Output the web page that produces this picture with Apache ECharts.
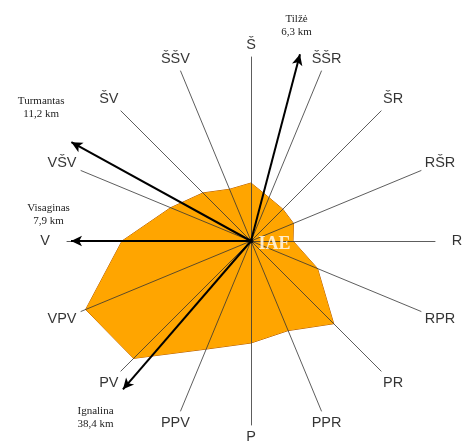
<!DOCTYPE html>
<html><head><meta charset="utf-8">
<script src="https://cdn.jsdelivr.net/npm/echarts@6/dist/echarts.min.js"></script>
<style>html,body{margin:0;padding:0;background:#fff}#c{width:462px;height:441px}</style>
</head><body><div id="c"></div>
<script>
// 16 wind directions, clockwise from north
const directions = ['Š','ŠŠR','ŠR','RŠR','R','RPR','PR','PPR','P','PPV','PV','VPV','V','VŠV','ŠV','ŠŠV'];
const zoneValues = [58,47,45,46,42,72,117,97,102,117,166,179,129,87,68,56];
const axisMax = 184;
// towns with arrows
const towns = ['Tilžė','Turmantas','Visaginas','Ignalina'];
const townDistances = ['6,3 km','11,2 km','7,9 km','38,4 km'];
const townBearings = [14.7, 298.8, 270, 220.8];
const arrowLengths = [193, 205, 180, 196];
const centerLabel = 'IAE';

// label offsets (style)
const townLabelOffsets = [[-2,-34],[-35,-37],[-28,-26],[-31,32]];

const chart = echarts.init(document.getElementById('c'));
// radar goes counterclockwise: reorder
const ccwIdx = [0].concat(directions.map((d,i)=>i).slice(1).reverse());
const indicators = ccwIdx.map(i => ({name: directions[i], max: axisMax}));
const radarVals = ccwIdx.map(i => zoneValues[i]);
const step = 360 / directions.length;

const CENTER = [251, 241];
const arrowSeries = towns.map((t, i) => ({
  type: 'line',
  coordinateSystem: 'polar',
  z: 20,
  silent: true,
  animation: false,
  lineStyle: {color: '#000', width: 2},
  data: [
    {value: [0, townBearings[i]], symbol: 'none'},
    {value: [arrowLengths[i], townBearings[i]], symbol: 'arrow', symbolSize: [8, 11],
     symbolRotate: -townBearings[i],
     itemStyle: {color: '#000'},
     label: {show: true, position: 'inside', offset: townLabelOffsets[i],
       formatter: t + '\n' + townDistances[i], color: '#222',
       fontFamily: 'Liberation Serif', fontSize: 11, lineHeight: 13, align: 'center'}}
  ]
}));

// direction name labels, centred just beyond each spoke
const nameData = directions.map((d, i) => {
  const b = i * step;
  const s = Math.sin(b * Math.PI / 180);
  return {value: [axisMax + 12 + 10 * s * s, b], name: d};
});

chart.setOption({
  animation: false,
  backgroundColor: '#fff',
  radar: {
    center: CENTER,
    radius: axisMax,
    startAngle: 90,
    splitNumber: 1,
    shape: 'polygon',
    z: 10,
    indicator: indicators,
    axisName: {show: false},
    axisLine: {lineStyle: {color: '#333', width: 0.8}},
    splitLine: {show: false},
    splitArea: {show: false},
    axisTick: {show: false},
    axisLabel: {show: false}
  },
  polar: {center: CENTER, radius: 210},
  angleAxis: {type: 'value', min: 0, max: 360, startAngle: 90, clockwise: true,
    axisLine: {show: false}, axisTick: {show: false}, axisLabel: {show: false}, splitLine: {show: false}},
  radiusAxis: {type: 'value', min: 0, max: 210,
    axisLine: {show: false}, axisTick: {show: false}, axisLabel: {show: false}, splitLine: {show: false}},
  series: [
    {
      type: 'radar',
      z: 2,
      symbol: 'none',
      lineStyle: {color: '#B35A00', width: 1},
      areaStyle: {color: '#FFA500', opacity: 1},
      data: [{value: radarVals}]
    },
    ...arrowSeries,
    {
      type: 'scatter',
      coordinateSystem: 'polar',
      z: 25,
      silent: true,
      symbolSize: 1,
      itemStyle: {color: 'rgba(0,0,0,0)'},
      data: nameData,
      label: {show: true, position: 'inside', formatter: '{b}', color: '#000',
        fontFamily: 'Liberation Sans', fontSize: 14.5, align: 'center', verticalAlign: 'middle'}
    },
    {
      type: 'scatter',
      coordinateSystem: 'polar',
      z: 30,
      symbolSize: 5,
      itemStyle: {color: '#000'},
      data: [[0, 0]],
      label: {show: true, formatter: centerLabel, position: 'right', distance: 5, offset: [0, 3],
        color: '#fff', fontFamily: 'Liberation Serif', fontWeight: 'bold', fontSize: 18}
    }
  ]
});
</script></body></html>
